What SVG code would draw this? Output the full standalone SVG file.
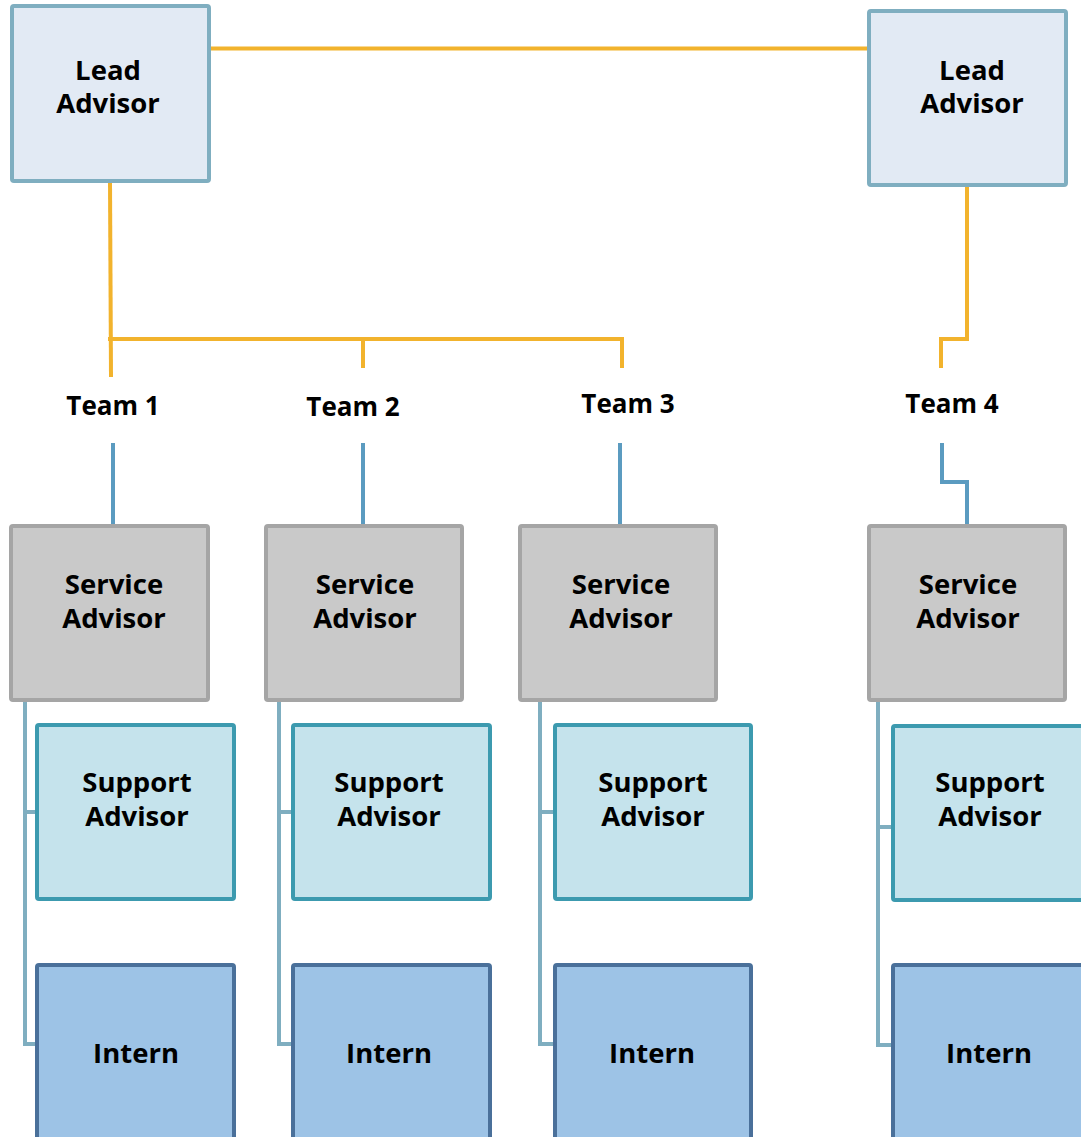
<svg xmlns="http://www.w3.org/2000/svg" width="1081" height="1137" viewBox="0 0 1081 1137">
<style>
text{font-family:"Open Sans","Noto Sans","Liberation Sans",sans-serif;font-weight:700;fill:#000;text-anchor:middle}
.t{font-size:27.5px}
.tm{font-size:26px}
.lead{fill:#E2EAF4;stroke:#7FAEC0;stroke-width:4}
.svc{fill:#C9C9C9;stroke:#A5A5A5;stroke-width:4}
.sup{fill:#C5E3EC;stroke:#3C9AAF;stroke-width:4}
.int{fill:#9DC3E6;stroke:#4A709A;stroke-width:4}
.o{fill:none;stroke:#F2B32D;stroke-width:4}
.b{fill:none;stroke:#5B9BC0;stroke-width:4}
.g{fill:none;stroke:#7FAEC0;stroke-width:4}
</style>
<rect width="1081" height="1137" fill="#fff"/>
<g id="connectors">
<path class="o" d="M211 48.5H868"/>
<path class="o" d="M110 181L111 377"/>
<path class="o" d="M108 339H622V368"/>
<path class="o" d="M363 339V368"/>
<path class="o" d="M967 186V339H941V368"/>
<path class="b" d="M113 443V524"/>
<path class="b" d="M363 443V524"/>
<path class="b" d="M620 443V524"/>
<path class="b" d="M942 443V482H967V524"/>
<path class="g" d="M25 701V1044H37M25 812H37"/>
<path class="g" d="M279 701V1044H293M279 812H293"/>
<path class="g" d="M540 701V1044H555M540 812H555"/>
<path class="g" d="M878 701V1045H893M878 827H893"/>
</g>
<g id="lead1"><rect class="lead" x="12" y="6" width="197" height="175" rx="2"/><text class="t" x="108" y="80">Lead</text><text class="t" x="108" y="113">Advisor</text></g>
<g id="lead2"><rect class="lead" x="869" y="11" width="197" height="174" rx="2"/><text class="t" x="972" y="80">Lead</text><text class="t" x="972" y="113">Advisor</text></g>
<g id="team1"><text class="tm" x="113" y="415">Team 1</text></g>
<g id="team2"><text class="tm" x="353" y="416">Team 2</text></g>
<g id="team3"><text class="tm" x="628" y="413">Team 3</text></g>
<g id="team4"><text class="tm" x="952" y="413">Team 4</text></g>
<g id="service1"><rect class="svc" x="11" y="526" width="197" height="174" rx="2"/><text class="t" x="114" y="594">Service</text><text class="t" x="114" y="628">Advisor</text></g>
<g id="service2"><rect class="svc" x="266" y="526" width="196" height="174" rx="2"/><text class="t" x="365" y="594">Service</text><text class="t" x="365" y="628">Advisor</text></g>
<g id="service3"><rect class="svc" x="520" y="526" width="196" height="174" rx="2"/><text class="t" x="621" y="594">Service</text><text class="t" x="621" y="628">Advisor</text></g>
<g id="service4"><rect class="svc" x="869" y="526" width="196" height="174" rx="2"/><text class="t" x="968" y="594">Service</text><text class="t" x="968" y="628">Advisor</text></g>
<g id="support1"><rect class="sup" x="37" y="725" width="197" height="174" rx="2"/><text class="t" x="137" y="792">Support</text><text class="t" x="137" y="826">Advisor</text></g>
<g id="support2"><rect class="sup" x="293" y="725" width="197" height="174" rx="2"/><text class="t" x="389" y="792">Support</text><text class="t" x="389" y="826">Advisor</text></g>
<g id="support3"><rect class="sup" x="555" y="725" width="196" height="174" rx="2"/><text class="t" x="653" y="792">Support</text><text class="t" x="653" y="826">Advisor</text></g>
<g id="support4"><rect class="sup" x="893" y="726" width="196" height="174" rx="2"/><text class="t" x="990" y="792">Support</text><text class="t" x="990" y="826">Advisor</text></g>
<g id="intern1"><rect class="int" x="37" y="965" width="197" height="180" rx="2"/><text class="t" x="136" y="1063">Intern</text></g>
<g id="intern2"><rect class="int" x="293" y="965" width="197" height="180" rx="2"/><text class="t" x="389" y="1063">Intern</text></g>
<g id="intern3"><rect class="int" x="555" y="965" width="196" height="180" rx="2"/><text class="t" x="652" y="1063">Intern</text></g>
<g id="intern4"><rect class="int" x="893" y="965" width="196" height="180" rx="2"/><text class="t" x="989" y="1063">Intern</text></g>
</svg>
